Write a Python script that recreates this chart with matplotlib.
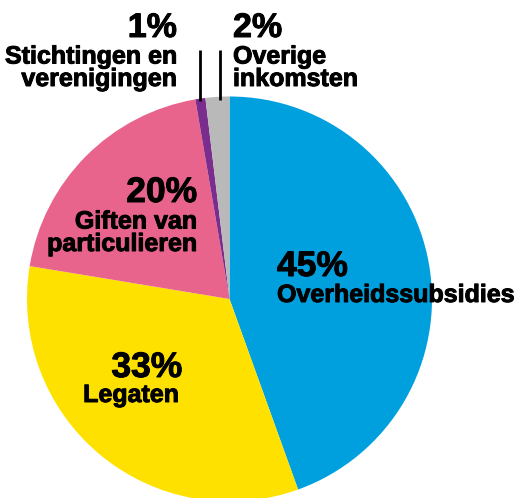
import matplotlib
matplotlib.use('Agg')
import matplotlib.pyplot as plt
import matplotlib.patheffects as pe

# slice shares, clockwise from the top
categories = ['Overheidssubsidies', 'Legaten', 'Giften van particulieren',
              'Stichtingen en verenigingen', 'Overige inkomsten']
shares = [44.5, 33.1, 19.7, 0.8, 1.9]
pct_labels = ['45%', '33%', '20%', '1%', '2%']
colors = ['#00A0DF', '#FFE100', '#E8648C', '#7B2D8E', '#B9B9B9']

plt.rcParams['font.family'] = ['Liberation Sans', 'DejaVu Sans']

W, H = 518, 498
fig = plt.figure(figsize=(W / 100, H / 100), dpi=100)
ax = fig.add_axes([0, 0, 1, 1])

cx, cy, r = 229.5, H - 299, 202.5
ax.pie(shares, colors=colors, startangle=90, counterclock=False,
       center=(cx, cy), radius=r, frame=True,
       wedgeprops=dict(linewidth=0))
ax.set_xlim(0, W)
ax.set_ylim(0, H)
ax.set_aspect('equal')
ax.set_axis_off()

big = 25.5
small = 18
heavy = [pe.withStroke(linewidth=0.7, foreground='black')]

def label(x, y_pct, y_txt, pct, txt, ha, x_txt=None, big_fs=big):
    ax.text(x, H - y_pct, pct, fontsize=big_fs, fontweight='bold', ha=ha,
            va='baseline', path_effects=heavy)
    ax.text(x if x_txt is None else x_txt, H - y_txt, txt, fontsize=small,
            fontweight='bold', ha=ha, va='baseline', linespacing=0.92,
            path_effects=heavy)

label(277, 276, 302, pct_labels[0], 'Overheidssubsidies', 'left')
label(182, 377, 402, pct_labels[1], 'Legaten', 'right', x_txt=179)
label(197, 202, 251, pct_labels[2], 'Giften van\nparticulieren', 'right')
label(177, 37, 86, pct_labels[3], 'Stichtingen en\nverenigingen', 'right', big_fs=24.5)
label(233, 37, 86, pct_labels[4], 'Overige\ninkomsten', 'left', big_fs=24.5)

# leader lines for the two thin slices
ax.plot([200, 200], [H - 50, H - 101], color='black', lw=2, solid_capstyle='butt')
ax.plot([220, 220], [H - 50, H - 100], color='black', lw=2, solid_capstyle='butt')

fig.savefig('out.png', dpi=100)
